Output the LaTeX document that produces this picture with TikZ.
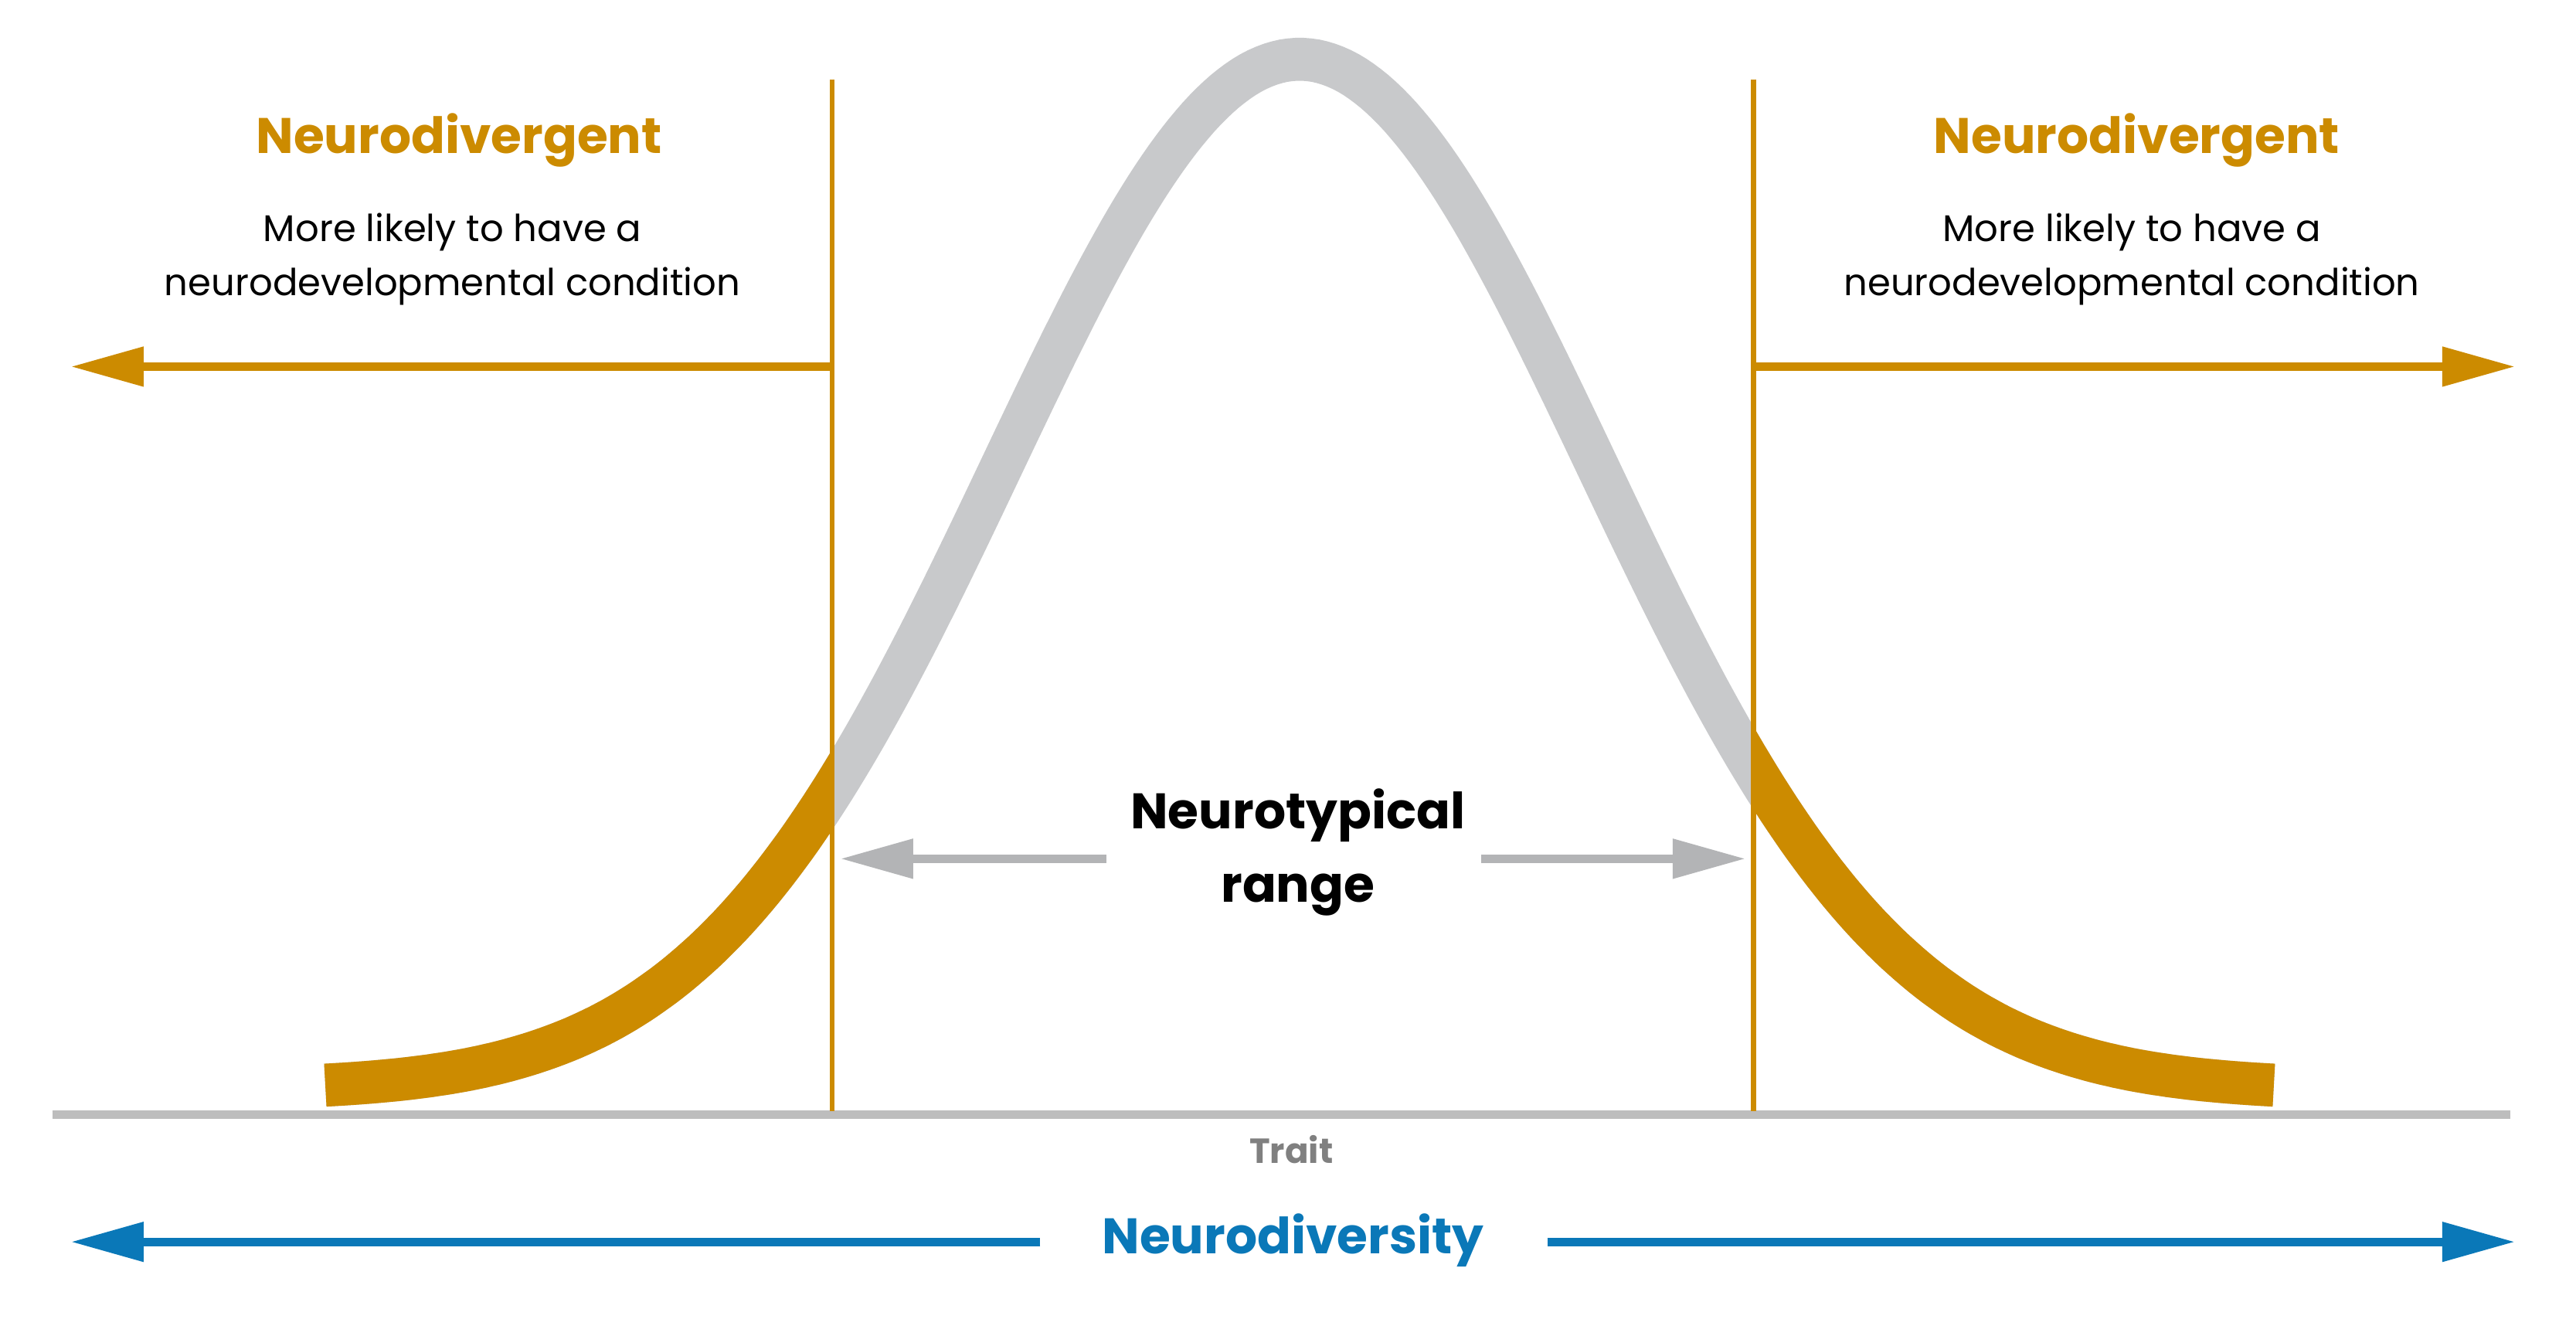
\documentclass[tikz,border=0pt]{standalone}
\usepackage{fontspec}
\setmainfont{Poppins}
\usetikzlibrary{arrows.meta}
\definecolor{gold}{HTML}{CC8B00}
\definecolor{bandgray}{HTML}{C8C9CB}
\definecolor{axgray}{HTML}{BDBDBD}
\definecolor{arrgray}{HTML}{B3B4B6}
\definecolor{nblue}{HTML}{0A78B8}
\begin{document}
\begin{tikzpicture}[x=0.01cm,y=-0.01cm,
  bigarrow/.style={line width=0.05cm,-{Triangle[length=0.44cm,width=0.23cm]}},
  title/.style={font=\fontsize{8.6}{12}\selectfont\bfseries},
  sub/.style={font=\fontsize{6.4}{9.3}\selectfont,align=center}]
\useasboundingbox (0,0) rectangle (1560,809);
\def\bell{plot[domain=197:1377,samples=300] (\x,{660-624*exp(-0.5*((\x-787)/180)^2)})}
\draw[bandgray,line width=0.26cm] \bell;
\begin{scope}
\clip (0,0) rectangle (504,700) (1062,0) rectangle (1560,700);
\draw[gold,line width=0.26cm] \bell;
\end{scope}
\coordinate (a0) at (32,675); \coordinate (a1) at (1520,675);
\draw[axgray,line width=0.05cm] (a0) -- (a1);
\coordinate (v1t) at (504,48); \coordinate (v1b) at (504,673);
\coordinate (v2t) at (1062,48); \coordinate (v2b) at (1062,673);
\draw[gold,line width=0.03cm] (v1t) -- (v1b);
\draw[gold,line width=0.03cm] (v2t) -- (v2b);
\coordinate (g1s) at (504,222); \coordinate (g1e) at (43,222);
\coordinate (g2s) at (1062,222); \coordinate (g2e) at (1523,222);
\draw[gold,bigarrow] (g1s) -- (g1e);
\draw[gold,bigarrow] (g2s) -- (g2e);
\coordinate (r1s) at (670,520); \coordinate (r1e) at (509,520);
\coordinate (r2s) at (897,520); \coordinate (r2e) at (1057,520);
\draw[arrgray,bigarrow] (r1s) -- (r1e);
\draw[arrgray,bigarrow] (r2s) -- (r2e);
\coordinate (b1s) at (630,752); \coordinate (b1e) at (43,752);
\coordinate (b2s) at (937,752); \coordinate (b2e) at (1523,752);
\draw[nblue,bigarrow] (b1s) -- (b1e);
\draw[nblue,bigarrow] (b2s) -- (b2e);
\node[title,text=gold] (nd1) at (278,85) {Neurodivergent};
\node[title,text=gold] (nd2) at (1294,85) {Neurodivergent};
\node[sub] (s1) at (274,157) {More likely to have a\\neurodevelopmental condition};
\node[sub] (s2) at (1291,157) {More likely to have a\\neurodevelopmental condition};
\node[title,align=center,font=\fontsize{8.6}{12.6}\selectfont\bfseries] (nt) at (786,516) {Neurotypical\\range};
\node[font=\fontsize{6}{8}\selectfont\bfseries,text=gray] (tr) at (782,696) {Trait};
\node[title,text=nblue] (ndv) at (783,751) {Neurodiversity};
\end{tikzpicture}
\end{document}
